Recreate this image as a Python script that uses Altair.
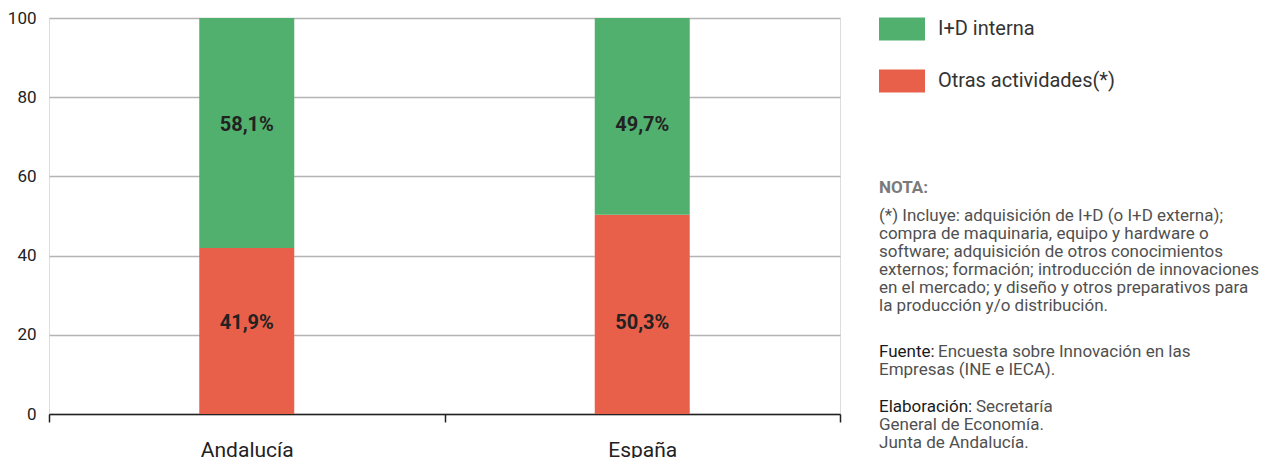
import altair as alt
import pandas as pd

regions = ["Andalucía", "España"]
series = ["I+D interna", "Otras actividades(*)"]
id_interna = [58.1, 49.7]
otras = [41.9, 50.3]
colors = ["#52B06E", "#E9604A"]
y_ticks = [0, 20, 40, 60, 80, 100]

nota_lines = ["(*) Incluye: adquisición de I+D (o I+D externa);",
              "compra de maquinaria, equipo y hardware o",
              "software; adquisición de otros conocimientos",
              "externos; formación; introducción de innovaciones",
              "en el mercado; y diseño y otros preparativos para",
              "la producción y/o distribución."]
fuente_lines = ["Encuesta sobre Innovación en las", "Empresas (INE e IECA)."]
elab_lines = ["Secretaría", "General de Economía.", "Junta de Andalucía."]

rows = []
for i, r in enumerate(regions):
    rows.append({"region": r, "serie": series[1], "valor": otras[i], "orden": 0})
    rows.append({"region": r, "serie": series[0], "valor": id_interna[i], "orden": 1})
df = pd.DataFrame(rows)
df["etiqueta"] = df["valor"].map(lambda v: f"{v:.1f}".replace(".", ",") + "%")

FONT = "Roboto"
W, H = 791, 396

x_enc = alt.X("region:N", sort=regions, title=None,
              scale=alt.Scale(paddingInner=0, paddingOuter=0),
              axis=alt.Axis(labelAngle=0, labelFontSize=21, labelColor="#222",
                            labelFont=FONT, labelPadding=17,
                            domainColor="#222", domainWidth=1.5,
                            tickColor="#222", tickWidth=1.5, tickSize=8,
                            tickBand="extent", grid=False))

base = alt.Chart(df)

bars = base.mark_bar(size=95).encode(
    x=x_enc,
    y=alt.Y("valor:Q", stack="zero", title=None,
            scale=alt.Scale(domain=[0, 100], nice=False),
            axis=alt.Axis(values=y_ticks, labelFontSize=17, labelColor="#222",
                          labelFont=FONT, labelPadding=13, domain=False,
                          ticks=False, gridColor="#b4b4b4", gridWidth=1.5)),
    color=alt.Color("serie:N", sort=series,
                    scale=alt.Scale(domain=series, range=colors),
                    legend=alt.Legend(title=None, orient="none",
                                      legendX=830, legendY=-12,
                                      symbolType="M-1,-0.5H1V0.5H-1Z",
                                      symbolSize=2116, symbolStrokeWidth=0,
                                      symbolOpacity=1,
                                      labelFontSize=20, labelFont=FONT,
                                      labelColor="#333", labelOffset=13,
                                      labelLimit=400, rowPadding=17)),
    order=alt.Order("orden:Q"),
)

labels = base.mark_text(font=FONT, fontSize=20, fontWeight="bold",
                        color="#222", baseline="middle").transform_stack(
    stack="valor", groupby=["region"], sort=[alt.SortField("orden")],
    as_=["y0", "y1"]
).transform_calculate(mid="(datum.y0 + datum.y1) / 2").transform_joinaggregate(
    pos="mean(mid)", groupby=["serie"]
).encode(
    x=alt.X("region:N", sort=regions),
    y=alt.Y("pos:Q"),
    text="etiqueta:N",
)

NX = 830
st = dict(font=FONT, fontSize=17, align="left", baseline="alphabetic",
          lineHeight=18)
one = alt.Data(values=[{"k": 1}])


def txt(text, x, y, color, weight="normal"):
    return alt.Chart(one).mark_text(text=text, color=color, fontWeight=weight,
                                    **st).encode(x=alt.value(x), y=alt.value(y))


layers = [
    bars, labels,
    txt("NOTA:", NX, 175, "#7a7a7a", "bold"),
    txt(nota_lines, NX, 203, "#505050"),
    txt("Fuente:", NX, 339, "#1a1a1a"),
    txt(fuente_lines[0], NX + 59, 339, "#505050"),
    txt(fuente_lines[1:], NX, 357, "#505050"),
    txt("Elaboración:", NX, 394, "#1a1a1a"),
    txt(elab_lines[0], NX + 97, 394, "#505050"),
    txt(elab_lines[1:], NX, 412, "#505050"),
]

chart = alt.layer(*layers).properties(
    width=W, height=H,
    autosize=alt.AutoSizeParams(type="none"),
    padding={"left": 41, "top": 10, "right": 432, "bottom": 44},
).configure_view(stroke=None).configure(background="white")

chart.save("out.html", embed_options={"renderer": "svg", "actions": False})
